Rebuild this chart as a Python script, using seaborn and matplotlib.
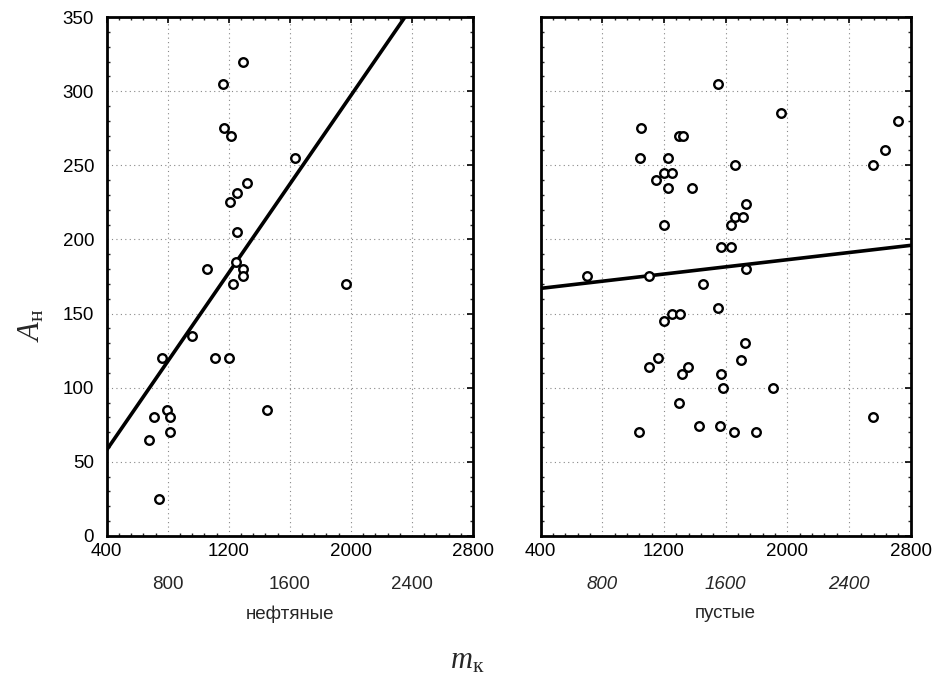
import numpy as np
import pandas as pd
import matplotlib
matplotlib.use("Agg")
import matplotlib.pyplot as plt
import seaborn as sns
from matplotlib.ticker import MultipleLocator

# ---- data ----
oil_x = [1295, 1164, 1167, 1212, 1634, 1321, 1252, 1210, 1252, 1247, 1055, 1295,
         1295, 1228, 1966, 961, 760, 1110, 1203, 1448, 795, 708, 817, 817, 679, 743]
oil_y = [320, 305, 275, 270, 255, 238, 231, 225, 205, 185, 180, 180,
         175, 170, 170, 135, 120, 120, 120, 85, 85, 80, 80, 70, 65, 25]

dry_x = [1550, 1960, 2717, 1052, 1299, 1325, 2633, 1044, 1223, 1658, 2557, 1200,
         1250, 1150, 1228, 1381, 1729, 1660, 1710, 1634, 1202, 1569, 1634, 1729,
         698, 1102, 1453, 1550, 1250, 1301, 1200, 1727, 1699, 1163, 1100, 1357,
         1318, 1569, 1584, 1909, 1299, 2553, 1425, 1565, 1039, 1652, 1796]
dry_y = [305, 285, 280, 275, 270, 270, 260, 255, 255, 250, 250, 245,
         245, 240, 235, 235, 224, 215, 215, 210, 210, 195, 195, 180,
         175, 175, 170, 154, 150, 150, 145, 130, 119, 120, 114, 114,
         109, 109, 100, 100, 90, 80, 74, 74, 70, 70, 70]

# fitted lines (endpoints in data units)
oil_line_x = [400, 2800]
oil_line_y = [58, 416.6]
dry_line_x = [400, 2800]
dry_line_y = [167, 196]

panel_titles = ["нефтяные", "пустые"]
xticks_row1 = [400, 1200, 2000, 2800]
xticks_row2 = [800, 1600, 2400]
yticks = [0, 50, 100, 150, 200, 250, 300, 350]

# ---- style ----
sns.set_theme(style="white")
plt.rcParams["font.family"] = ["Liberation Sans", "DejaVu Sans"]
plt.rcParams["mathtext.fontset"] = "custom"
plt.rcParams["mathtext.rm"] = "Liberation Serif"
plt.rcParams["mathtext.it"] = "Liberation Serif:italic"

FS = 13.5

fig = plt.figure(figsize=(9.35, 6.89), dpi=100)
axL = fig.add_axes([0.1141, 0.2221, 0.3918, 0.7532])
axR = fig.add_axes([0.5783, 0.2221, 0.3957, 0.7532])

datasets = [
    (axL, oil_x, oil_y, oil_line_x, oil_line_y, False),
    (axR, dry_x, dry_y, dry_line_x, dry_line_y, True),
]

for i, (ax, xs, ys, lx, ly, italic2) in enumerate(datasets):
    df = pd.DataFrame({"x": xs, "y": ys})
    ldf = pd.DataFrame({"x": lx, "y": ly})
    ax.set_xlim(400, 2800)
    ax.set_ylim(0, 350)
    ax.grid(True, which="major", linestyle=(0, (1, 3)), color="#888888", linewidth=0.8)
    ax.set_axisbelow(True)
    sns.lineplot(data=ldf, x="x", y="y", ax=ax, color="black", linewidth=2.6,
                 clip_on=True, zorder=3)
    sns.scatterplot(data=df, x="x", y="y", ax=ax, marker="o", s=38,
                    facecolor="white", edgecolor="black", linewidth=1.7, zorder=4)
    ax.set_xlabel("")
    ax.set_ylabel("")
    allx = sorted(xticks_row1 + xticks_row2)
    ax.set_xticks(allx)
    ax.set_xticklabels([str(v) if v in xticks_row1 else "" for v in allx], fontsize=FS)
    ax.xaxis.set_minor_locator(MultipleLocator(80))
    ax.yaxis.set_minor_locator(MultipleLocator(10))
    ax.set_yticks(yticks)
    if i == 0:
        ax.set_yticklabels([str(v) for v in yticks], fontsize=FS)
    else:
        ax.set_yticklabels([])
    ax.tick_params(which="major", direction="in", length=4, width=1.2,
                   top=True, right=True, pad=5, colors="black")
    ax.tick_params(which="minor", direction="in", length=2.5, width=1.0,
                   top=True, right=True, bottom=True, left=True)
    ax.tick_params(axis="y", pad=9)
    for sp in ax.spines.values():
        sp.set_visible(True)
        sp.set_color("black")
        sp.set_linewidth(2.0)

    sec = ax.secondary_xaxis("bottom")
    sec.set_xticks(xticks_row2)
    sec.set_xticklabels([str(v) for v in xticks_row2], fontsize=FS,
                        style="italic" if italic2 else "normal")
    sec.tick_params(length=0, pad=29)
    sec.spines["bottom"].set_visible(False)

    ax.text(0.5, -0.150, panel_titles[i], transform=ax.transAxes, ha="center",
            va="center", fontsize=FS)

fig.text(0.034, 0.528, r"$A_{\mathrm{н}}$", rotation=90, ha="center", va="center",
         fontsize=22)
fig.text(0.5, 0.042, r"$m_{\mathrm{к}}$", ha="center", va="center", fontsize=22)

fig.savefig("out.png", dpi=100)
